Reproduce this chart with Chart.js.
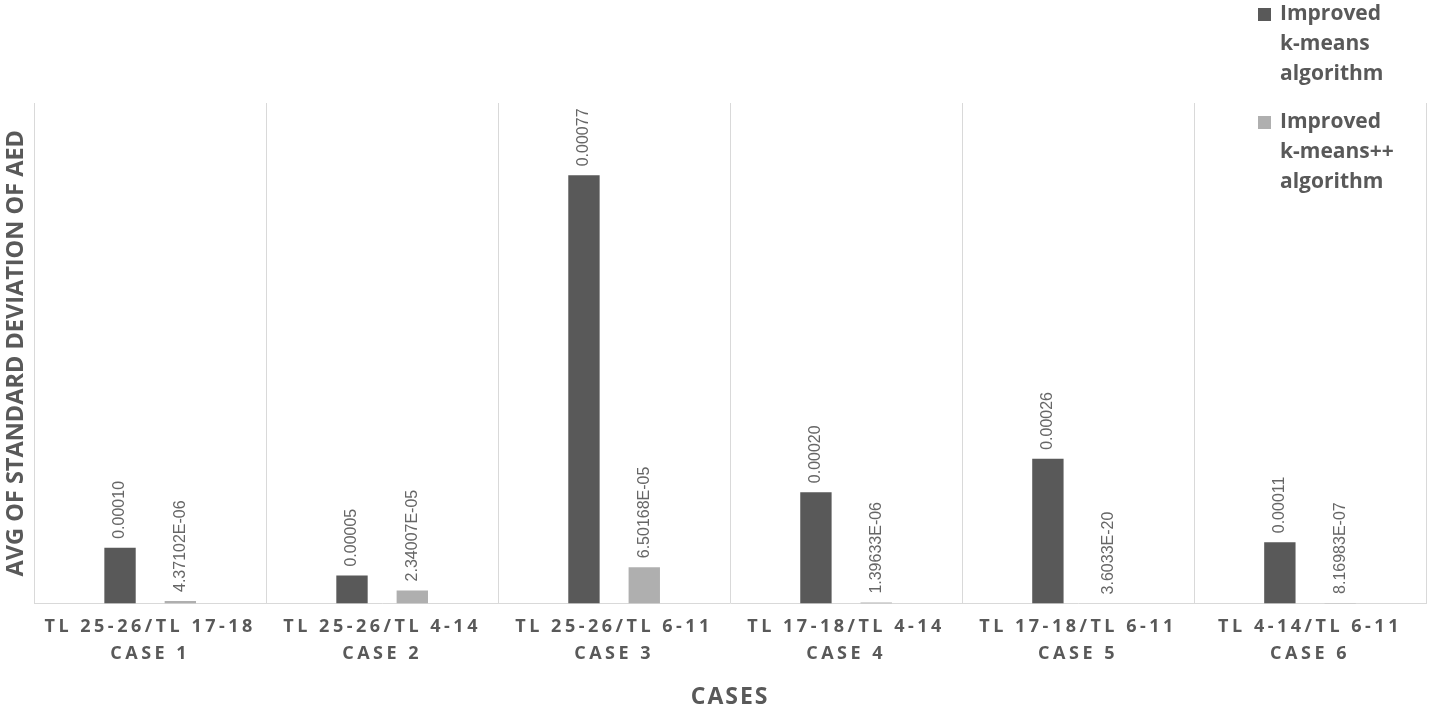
<!DOCTYPE html>
<html>
<head>
<meta charset="utf-8">
<script src="https://cdn.jsdelivr.net/npm/chart.js@4.4.1/dist/chart.umd.min.js"></script>
<style>
    html, body { margin: 0; padding: 0; background: #ffffff; }
    #wrap { width: 1429px; height: 711px; position: relative; }
</style>
</head>
<body>
<div id="wrap"><canvas id="chart"></canvas></div>
<script>
const pairs = ['TL 25-26/TL 17-18', 'TL 25-26/TL 4-14', 'TL 25-26/TL 6-11', 'TL 17-18/TL 4-14', 'TL 17-18/TL 6-11', 'TL 4-14/TL 6-11'];
const cases = ['CASE 1', 'CASE 2', 'CASE 3', 'CASE 4', 'CASE 5', 'CASE 6'];
const kmeans = [0.00010, 0.00005, 0.00077, 0.00020, 0.00026, 0.00011];
const kmeansPP = [4.37102e-06, 2.34007e-05, 6.50168e-05, 1.39633e-06, 3.6033e-20, 8.16983e-07];
const kmeansText = ['0.00010', '0.00005', '0.00077', '0.00020', '0.00026', '0.00011'];
const kmeansPPText = ['4.37102E-06', '2.34007E-05', '6.50168E-05', '1.39633E-06', '3.6033E-20', '8.16983E-07'];
const seriesNames = [['Improved', 'k-means', 'algorithm'], ['Improved', 'k-means++', 'algorithm']];

const darkGrey = '#595959';
const lightGrey = '#afafaf';
const textGrey = '#595959';

// the x labels and title are spaced out, nothing else is
const spacing = {
    id: 'spacing',
    beforeDraw(chart) {
        const x = chart.scales.x;
        if (x._spaced) return;
        const ctx = chart.ctx;
        const labels = x.drawLabels.bind(x);
        const title = x.drawTitle.bind(x);
        x.drawLabels = (area) => { ctx.letterSpacing = '3.5px'; labels(area); ctx.letterSpacing = '0px'; };
        x.drawTitle = (area) => { ctx.letterSpacing = '2px'; title(area); ctx.letterSpacing = '0px'; };
        x._spaced = true;
    },
};

const valueLabels = {
    id: 'valueLabels',
    afterDatasetsDraw(chart) {
        const ctx = chart.ctx;
        const texts = [kmeansText, kmeansPPText];
        ctx.save();
        ctx.font = '16px "Liberation Sans", Arial, sans-serif';
        ctx.fillStyle = '#666666';
        ctx.textAlign = 'left';
        ctx.textBaseline = 'middle';
        chart.data.datasets.forEach((ds, di) => {
            chart.getDatasetMeta(di).data.forEach((bar, i) => {
                ctx.save();
                ctx.translate(bar.x, bar.y - 9);
                ctx.rotate(-Math.PI / 2);
                ctx.fillText(texts[di][i], 0, 0);
                ctx.restore();
            });
        });
        ctx.restore();
    },
};

const sideLegend = {
    id: 'sideLegend',
    afterDraw(chart) {
        const ctx = chart.ctx;
        const colors = [darkGrey, lightGrey];
        ctx.save();
        ctx.font = 'bold 21px "Open Sans", sans-serif';
        ctx.textAlign = 'left';
        ctx.textBaseline = 'alphabetic';
        seriesNames.forEach((lines, k) => {
            const base = 20 + k * 108;
            ctx.fillStyle = colors[k];
            ctx.fillRect(1258, base - 12, 13, 13);
            ctx.fillStyle = textGrey;
            lines.forEach((line, j) => ctx.fillText(line, 1280, base + j * 30));
        });
        ctx.restore();
    },
};

new Chart(document.getElementById('chart').getContext('2d'), {
    type: 'bar',
    data: {
        labels: pairs.map((p, i) => [p, cases[i]]),
        datasets: [
            {
                label: 'Improved k-means algorithm',
                data: kmeans,
                backgroundColor: darkGrey,
                categoryPercentage: 0.52,
                barPercentage: 0.52,
            },
            {
                label: 'Improved k-means++ algorithm',
                data: kmeansPP,
                backgroundColor: lightGrey,
                categoryPercentage: 0.52,
                barPercentage: 0.52,
            },
        ],
    },
    options: {
        responsive: true,
        maintainAspectRatio: false,
        animation: false,
        layout: { padding: { top: 103, right: 3, left: 0, bottom: 0 } },
        plugins: {
            legend: { display: false },
            tooltip: { enabled: false },
        },
        scales: {
            x: {
                grid: { color: '#d9d9d9', drawTicks: false },
                border: { color: '#d9d9d9' },
                ticks: {
                    color: textGrey,
                    padding: 10,
                    maxRotation: 0,
                    font: { family: '"Open Sans", sans-serif', size: 18, weight: 'bold', lineHeight: 1.5 },
                },
                title: {
                    display: true,
                    text: 'CASES',
                    color: textGrey,
                    padding: { top: 6, bottom: 0 },
                    font: { family: '"Open Sans", sans-serif', size: 23, weight: 'bold', lineHeight: 1.2 },
                },
            },
            y: {
                min: 0,
                max: 0.0009,
                grid: { display: false, drawTicks: false },
                border: { display: false },
                ticks: { display: false },
                title: {
                    display: true,
                    text: 'AVG OF STANDARD DEVIATION OF AED',
                    color: textGrey,
                    padding: { top: 2, bottom: 4 },
                    font: { family: '"Open Sans", sans-serif', size: 23.5, weight: 'bold', lineHeight: 1.2 },
                },
            },
        },
    },
    plugins: [spacing, valueLabels, sideLegend],
});
</script>
</body>
</html>
